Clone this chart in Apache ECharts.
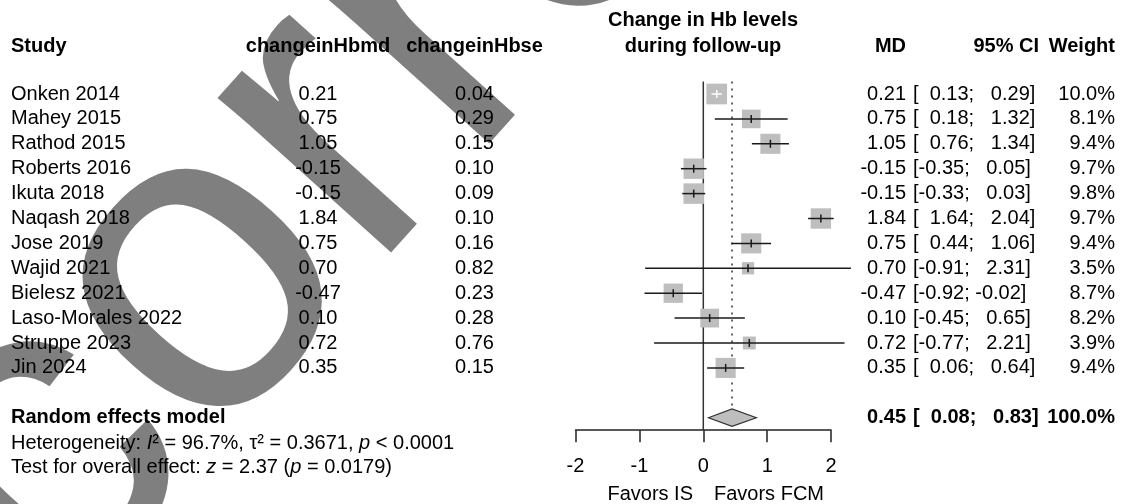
<!DOCTYPE html>
<html>
<head>
<meta charset="utf-8">
<script src="https://cdn.jsdelivr.net/npm/echarts@6/dist/echarts.min.js"></script>
<style>
  html, body { margin: 0; padding: 0; background: #fff; }
  #chart { width: 1123px; height: 504px; }
</style>
</head>
<body>
<div id="chart"></div>
<script>
var studies = ["Onken 2014", "Mahey 2015", "Rathod 2015", "Roberts 2016", "Ikuta 2018", "Naqash 2018",
  "Jose 2019", "Wajid 2021", "Bielesz 2021", "Laso-Morales 2022", "Struppe 2023", "Jin 2024"];
var md = [0.21, 0.75, 1.05, -0.15, -0.15, 1.84, 0.75, 0.70, -0.47, 0.10, 0.72, 0.35];
var se = [0.04, 0.29, 0.15, 0.10, 0.09, 0.10, 0.16, 0.82, 0.23, 0.28, 0.76, 0.15];
var ciLower = [0.13, 0.18, 0.76, -0.35, -0.33, 1.64, 0.44, -0.91, -0.92, -0.45, -0.77, 0.06];
var ciUpper = [0.29, 1.32, 1.34, 0.05, 0.03, 2.04, 1.06, 2.31, -0.02, 0.65, 2.21, 0.64];
var weights = [10.0, 8.1, 9.4, 9.7, 9.8, 9.7, 9.4, 3.5, 8.7, 8.2, 3.9, 9.4];
var pooledMd = 0.45, pooledLower = 0.08, pooledUpper = 0.83, pooledWeight = 100.0;
var xTicks = [-2, -1, 0, 1, 2];

var FONT = '"Liberation Sans", Arial, Helvetica, sans-serif';
var FS = 20;
var poolRow = studies.length + 1;

// column x positions (px)
var colStudy = 11, colMd = 318, colSe = 474.5, colMD = 906, colCI = 913, colW = 1115;

// non-negative numbers get a digit-wide pad (two spaces) so the CI columns line up
function padNum(v) { return (v < 0 ? "" : "  ") + v.toFixed(2); }
function ciText(l, u) { return "[" + padNum(l) + "; " + padNum(u) + "]"; }

function txt(x, y, s, align, bold) {
  return {
    type: "text", x: x, y: y,
    style: { text: s, fill: "#000", align: align, verticalAlign: "middle",
      font: (bold ? "bold " : "") + FS + "px " + FONT }
  };
}

var forestData = md.map(function (m, i) { return [m, ciLower[i], ciUpper[i], weights[i], i]; });
var tableData = studies.map(function (s, i) { return [0, i]; });

var chart = echarts.init(document.getElementById("chart"));

var option = {
  animation: false,
  grid: { left: 575.5, right: 291.9, top: 81.55, bottom: 73.85 },
  xAxis: {
    type: "value", min: -2, max: 2, interval: 1, position: "bottom",
    axisLine: { onZero: false, lineStyle: { color: "#222", width: 1.5 } },
    axisTick: { length: 12, lineStyle: { color: "#222", width: 1.5 } },
    axisLabel: { margin: 26, fontSize: FS, color: "#000", fontFamily: FONT,
      formatter: function (v) { return xTicks.indexOf(v) >= 0 ? String(v) : ""; } },
    splitLine: { show: false }
  },
  yAxis: { type: "value", min: -0.5, max: poolRow + 0.5, inverse: true, show: false },
  series: [
    {
      // reference lines: no effect (solid) and pooled estimate (dotted)
      type: "custom", clip: false, silent: true,
      data: [[0, -0.5, poolRow + 0.5, 0], [pooledMd, -0.5, poolRow - 0.35, 1]],
      renderItem: function (params, api) {
        var a = api.coord([api.value(0), api.value(1)]);
        var b = api.coord([api.value(0), api.value(2)]);
        var dotted = api.value(3) === 1;
        return {
          type: "line", shape: { x1: a[0], y1: a[1], x2: b[0], y2: b[1] },
          style: dotted ? { stroke: "#333", lineWidth: 1.5, lineDash: [2, 5] }
                        : { stroke: "#333", lineWidth: 1.5 }
        };
      }
    },
    {
      // study boxes + CIs
      type: "custom", clip: false, silent: true,
      data: forestData,
      renderItem: function (params, api) {
        var m = api.value(0), row = api.value(4);
        var c = api.coord([m, row]);
        var pl = api.coord([api.value(1), row]);
        var ph = api.coord([api.value(2), row]);
        var size = 20.7 * Math.sqrt(api.value(3) / 10);
        var inside = pl[0] >= c[0] - size / 2 && ph[0] <= c[0] + size / 2;
        var col = inside ? "#fff" : "#1a1a1a";
        return {
          type: "group",
          children: [
            { type: "rect", shape: { x: c[0] - size / 2, y: c[1] - size / 2, width: size, height: size },
              style: { fill: "#bebebe" } },
            { type: "line", shape: { x1: pl[0], y1: c[1], x2: ph[0], y2: c[1] },
              style: { stroke: col, lineWidth: 1.5 } },
            { type: "line", shape: { x1: c[0], y1: c[1] - 4, x2: c[0], y2: c[1] + 4 },
              style: { stroke: col, lineWidth: 1.5 } }
          ]
        };
      }
    },
    {
      // pooled diamond
      type: "custom", clip: false, silent: true,
      data: [[pooledMd, pooledLower, pooledUpper, poolRow]],
      renderItem: function (params, api) {
        var row = api.value(3);
        var l = api.coord([api.value(1), row]);
        var r = api.coord([api.value(2), row]);
        var t = api.coord([api.value(0), row - 0.35]);
        var b = api.coord([api.value(0), row + 0.35]);
        return {
          type: "polygon",
          shape: { points: [[l[0], l[1]], [t[0], t[1]], [r[0], r[1]], [b[0], b[1]]] },
          style: { fill: "#bebebe", stroke: "#333", lineWidth: 1.2 }
        };
      }
    },
    {
      // table text for each study row
      type: "custom", clip: false, silent: true,
      data: tableData,
      renderItem: function (params, api) {
        var i = params.dataIndex;
        var y = api.coord([0, api.value(1)])[1];
        return {
          type: "group",
          children: [
            txt(colStudy, y, studies[i], "left"),
            txt(colMd, y, md[i].toFixed(2), "center"),
            txt(colSe, y, se[i].toFixed(2), "center"),
            txt(colMD, y, md[i].toFixed(2), "right"),
            txt(colCI, y, ciText(ciLower[i], ciUpper[i]), "left"),
            txt(colW, y, weights[i].toFixed(1) + "%", "right")
          ]
        };
      }
    },
    {
      // pooled row text
      type: "custom", clip: false, silent: true,
      data: [[0, poolRow]],
      renderItem: function (params, api) {
        var y = api.coord([0, api.value(1)])[1];
        return {
          type: "group",
          children: [
            txt(colStudy, y, "Random effects model", "left", true),
            txt(colMD, y, pooledMd.toFixed(2), "right", true),
            txt(colCI, y, ciText(pooledLower, pooledUpper), "left", true),
            txt(colW, y, pooledWeight.toFixed(1) + "%", "right", true)
          ]
        };
      }
    }
  ],
  graphic: [
    txt(colStudy, 46, "Study", "left", true),
    txt(colMd, 46, "changeinHbmd", "center", true),
    txt(colSe, 46, "changeinHbse", "center", true),
    txt(703, 20, "Change in Hb levels", "center", true),
    txt(703, 46, "during follow-up", "center", true),
    txt(colMD, 46, "MD", "right", true),
    txt(1039, 46, "95% CI", "right", true),
    txt(colW, 46, "Weight", "right", true),
    txt(693, 494, "Favors IS", "right"),
    txt(714, 494, "Favors FCM", "left"),
    {
      type: "text", x: colStudy, y: 443,
      style: { text: "Heterogeneity: {i|I}² = 96.7%, τ² = 0.3671, {i|p} < 0.0001",
        fill: "#000", align: "left", verticalAlign: "middle", font: FS + "px " + FONT,
        rich: { i: { fontStyle: "italic", fontSize: FS, fontFamily: FONT } } }
    },
    {
      type: "text", x: colStudy, y: 467,
      style: { text: "Test for overall effect: {i|z} = 2.37 ({i|p} = 0.0179)",
        fill: "#000", align: "left", verticalAlign: "middle", font: FS + "px " + FONT,
        rich: { i: { fontStyle: "italic", fontSize: FS, fontFamily: FONT } } }
    },
    {
      type: "text", x: -276, y: 812, rotation: 48 * Math.PI / 180, z: 100, silent: true,
      style: { text: "Incorrect", fill: "rgba(0,0,0,0.5)", align: "left", verticalAlign: "middle",
        font: "440px " + FONT }
    }
  ]
};

chart.setOption(option);
</script>
</body>
</html>
